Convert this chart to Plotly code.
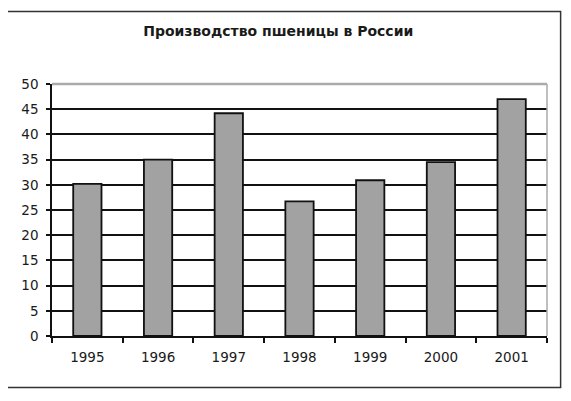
import plotly.graph_objects as go

years = ["1995", "1996", "1997", "1998", "1999", "2000", "2001"]
wheat = [30.2, 35.0, 44.2, 26.7, 30.9, 34.5, 47.0]
y_ticks = [0, 5, 10, 15, 20, 25, 30, 35, 40, 45, 50]

fig = go.Figure()
fig.add_trace(go.Bar(
    x=years, y=wheat, width=0.4,
    marker=dict(color="#a2a2a2", line=dict(color="#111", width=1.8)),
))

# outer frame around the whole chart (paper coords relative to plot area)
fig.add_shape(type="rect", xref="paper", yref="paper",
              x0=-0.0923, x1=1.0275, y0=-0.2044, y1=1.2876,
              line=dict(color="#333", width=1.5), layer="below")
# grey right edge and top line of the plot area
fig.add_shape(type="line", xref="paper", yref="paper", x0=1, x1=1, y0=0, y1=1,
              line=dict(color="#aaa", width=1.5))
fig.add_shape(type="line", xref="paper", yref="paper", x0=0, x1=1, y0=1, y1=1,
              line=dict(color="#aaa", width=2.5))

fig.update_layout(
    width=563, height=393,
    margin=dict(l=44, r=24, t=76, b=65),
    paper_bgcolor="white", plot_bgcolor="white",
    showlegend=False,
    font=dict(family="DejaVu Sans, sans-serif", size=13.5, color="#1a1a1a"),
    title=dict(text="<b>Производство пшеницы в России</b>",
               xref="container", x=0.48, xanchor="center",
               yref="container", y=0.94, yanchor="middle",
               font=dict(size=14, color="#1a1a1a")),
)
fig.update_xaxes(
    type="category", showgrid=False, showline=True, linecolor="#111", linewidth=1.5,
    ticks="outside", tickson="boundaries", ticklen=5, tickcolor="#111", tickwidth=1.5,
    ticklabelstandoff=8,
)
fig.update_yaxes(
    range=[0, 50], tickvals=y_ticks, showgrid=True, gridcolor="#111", gridwidth=2,
    showline=True, linecolor="#111", linewidth=1.5, zeroline=False,
    ticks="outside", ticklen=4, tickcolor="#111", tickwidth=1.5,
    ticklabelstandoff=5,
)

fig.write_html("out.html")
